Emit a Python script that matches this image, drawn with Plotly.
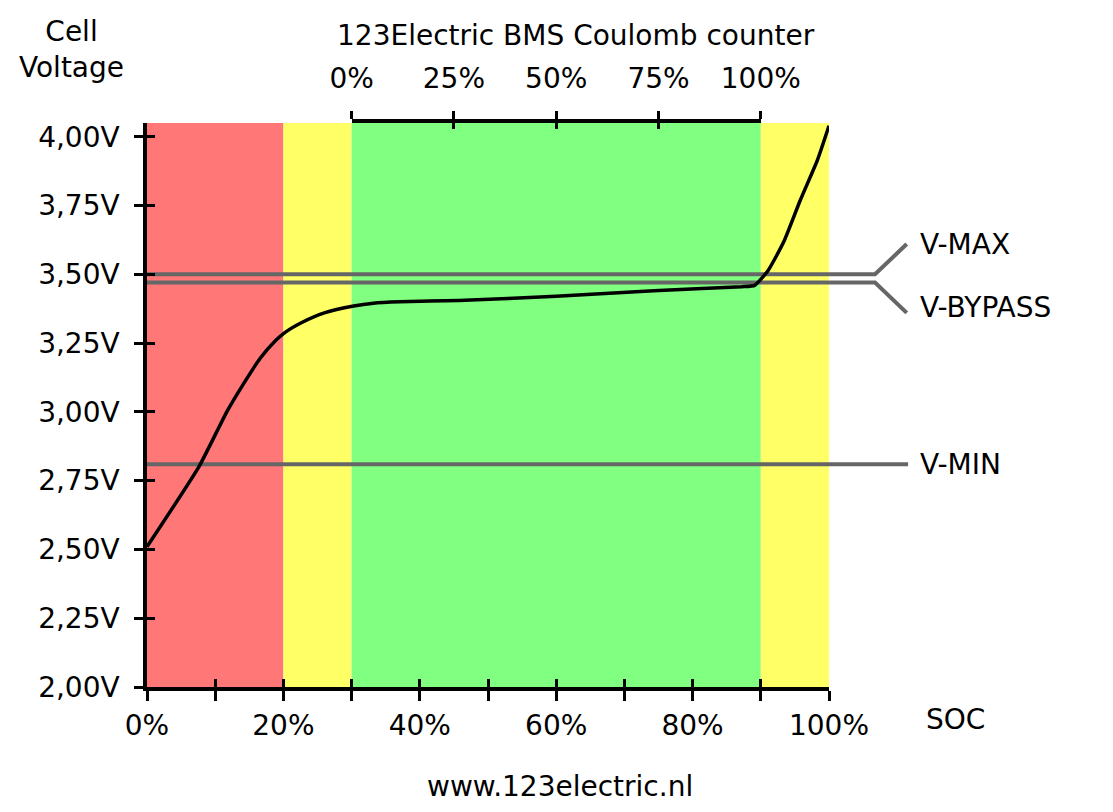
import plotly.graph_objects as go

# ---------------- data ----------------
soc = [0, 7.6, 11.7, 14.1, 16.6, 18.9, 20.3, 22.7, 26.0, 30.3, 33.2, 37.1,
       45.7, 60.0, 74.3, 87.2, 89.1, 91.1, 93.4, 95.8, 98.3, 100]
voltage = [2.51, 2.80, 3.00, 3.10, 3.195, 3.26, 3.29, 3.325, 3.36, 3.385, 3.395, 3.40,
           3.405, 3.42, 3.44, 3.455, 3.46, 3.515, 3.62, 3.77, 3.915, 4.04]

band_start = [0, 20, 30, 90]
band_end = [20, 30, 90, 100]
band_color = ["#FF7777", "#FFFF66", "#80FF80", "#FFFF66"]

level_names = ["V-MAX", "V-BYPASS", "V-MIN"]
level_volts = [3.50, 3.47, 2.81]

x_tickvals = [0, 10, 20, 30, 40, 50, 60, 70, 80, 90, 100]
x_ticktext = ["0%", "", "20%", "", "40%", "", "60%", "", "80%", "", "100%"]

y_tickvals = [2.00, 2.25, 2.50, 2.75, 3.00, 3.25, 3.50, 3.75, 4.00]
y_ticktext = ["2,00V", "2,25V", "2,50V", "2,75V", "3,00V", "3,25V", "3,50V", "3,75V", "4,00V"]

coulomb_tickvals = [0, 25, 50, 75, 100]
coulomb_ticktext = ["0%", "25%", "50%", "75%", "100%"]

# ---------------- styling ----------------
FONT = "DejaVu Sans"
FS = 28
GREY = "#666666"
X_RANGE = [0, 100]
Y_RANGE = [2.0, 4.05]

fig = go.Figure()

# horizontal threshold lines inside the plot (under the curve)
for name, v in zip(level_names, level_volts):
    fig.add_trace(go.Scatter(x=[X_RANGE[0], X_RANGE[1]], y=[v, v], mode="lines",
                             line=dict(color=GREY, width=4), hoverinfo="skip",
                             showlegend=False))

# discharge curve
fig.add_trace(go.Scatter(x=soc, y=voltage, mode="lines",
                         line=dict(color="black", width=3.5, shape="spline", smoothing=0.5),
                         showlegend=False))

# dummy traces to activate helper axes
fig.add_trace(go.Scatter(x=[None], y=[None], xaxis="x2", yaxis="y", showlegend=False, hoverinfo="skip"))
fig.add_trace(go.Scatter(x=[None], y=[None], xaxis="x3", yaxis="y", showlegend=False, hoverinfo="skip"))
fig.add_trace(go.Scatter(x=[None], y=[None], xaxis="x4", yaxis="y", showlegend=False, hoverinfo="skip"))
fig.add_trace(go.Scatter(x=[None], y=[None], xaxis="x", yaxis="y3", showlegend=False, hoverinfo="skip"))

# coloured SOC bands
for s, e, c in zip(band_start, band_end, band_color):
    fig.add_shape(type="rect", xref="x", yref="paper", x0=s, x1=e, y0=0, y1=1,
                  fillcolor=c, line=dict(width=0), layer="below")

# threshold line extensions to the right of the plot + leader lines
ext = 1.0675
tip = 1.114
offsets = [0.11, -0.11, 0.0]
for name, v, off in zip(level_names, level_volts, offsets):
    if off == 0:
        fig.add_shape(type="line", xref="paper", yref="y", x0=1.0, x1=1.116, y0=v, y1=v,
                      line=dict(color=GREY, width=4), layer="above")
        label_y = v
    else:
        fig.add_shape(type="path", xref="paper", yref="y",
                      path=f"M 1.0,{v} L {ext},{v} L {tip},{v + off}",
                      line=dict(color=GREY, width=4), layer="above")
        label_y = v + off + (0.0 if off > 0 else 0.02)
    fig.add_annotation(xref="paper", yref="y", x=1.1305, y=label_y, text=name,
                       showarrow=False, xanchor="left", yanchor="middle",
                       font=dict(family=FONT, size=FS, color="black"))

axis_common = dict(showgrid=False, zeroline=False, tickcolor="black", tickwidth=3,
                   tickfont=dict(family=FONT, size=FS, color="black"))

# the page body has an 8px margin; size the figure so the whole page is 1113x812
fig.update_layout(
    width=1097, height=796,
    margin=dict(l=139, r=276, t=115, b=117),
    paper_bgcolor="white", plot_bgcolor="rgba(0,0,0,0)",
    xaxis=dict(range=X_RANGE, tickvals=x_tickvals, ticktext=x_ticktext,
               ticks="outside", ticklen=10, showline=True, linecolor="black", linewidth=3.5,
               ticklabelstandoff=1, domain=[0, 1], anchor="y", automargin=False, **axis_common),
    xaxis3=dict(range=X_RANGE, tickvals=x_tickvals, overlaying="x", anchor="y", side="bottom",
                ticks="inside", ticklen=8, showticklabels=False, showline=False, **axis_common),
    xaxis2=dict(range=[0, 100], domain=[0.3, 0.9], anchor="y", side="top",
                tickvals=coulomb_tickvals, ticktext=coulomb_ticktext,
                ticks="outside", ticklen=8, showline=True, linecolor="black", linewidth=3.5,
                ticklabelstandoff=12, automargin=False, **axis_common),
    xaxis4=dict(range=[0, 100], overlaying="x2", anchor="y", side="top",
                tickvals=coulomb_tickvals, ticks="inside", ticklen=6,
                showticklabels=False, showline=False, **axis_common),
    yaxis=dict(range=Y_RANGE, tickvals=y_tickvals, ticktext=y_ticktext,
               ticks="outside", ticklen=9, showline=True, linecolor="black", linewidth=3.5,
               ticklabelstandoff=9, anchor="x", automargin=False, **axis_common),
    yaxis3=dict(range=Y_RANGE, tickvals=y_tickvals, overlaying="y", anchor="x", side="left",
                ticks="inside", ticklen=8, showticklabels=False, showline=False, **axis_common),
    showlegend=False,
)

texts = [
    ("Cell<br>Voltage", -0.11, 1.13),
    ("123Electric BMS Coulomb counter", 0.629, 1.156),
    ("SOC", 1.185, -0.0585),
    ("www.123electric.nl", 0.606, -0.177),
]
for t, x, y in texts:
    fig.add_annotation(xref="paper", yref="paper", x=x, y=y, text=t, showarrow=False,
                       xanchor="center", yanchor="middle", align="center",
                       font=dict(family=FONT, size=FS, color="black"))

fig.write_html("out.html")
